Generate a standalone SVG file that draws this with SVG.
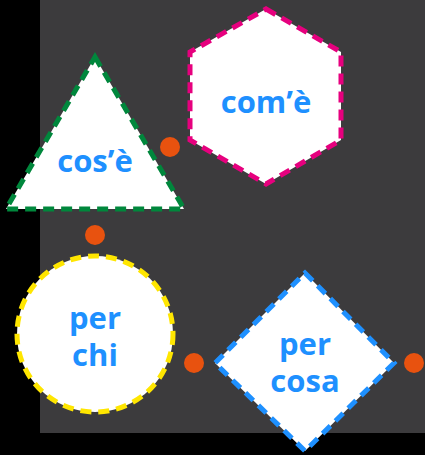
<svg xmlns="http://www.w3.org/2000/svg" width="425" height="455" viewBox="0 0 425 455">
<style>
.lbl{font-family:"Open Sans","DejaVu Sans",sans-serif;font-weight:bold;font-size:31px;fill:#1e90ff;text-anchor:middle}
.shp{fill:#ffffff;stroke-width:5;stroke-dasharray:11 7}
.dot{fill:#e8520f}
</style>
<rect x="0" y="0" width="425" height="455" fill="#000000"/>
<rect x="40" y="0" width="385" height="433" fill="#3c3b3d"/>
<g id="connectors">
<circle class="dot" cx="170" cy="147" r="10"/>
<circle class="dot" cx="95" cy="235" r="10"/>
<circle class="dot" cx="194" cy="363" r="10"/>
<circle class="dot" cx="414" cy="363" r="10"/>
</g>
<g id="node-cose">
<polygon class="shp" stroke="#00873c" points="95,57 184,209 6,209"/>
<text class="lbl" x="95" y="172">cos’è</text>
</g>
<g id="node-come">
<polygon class="shp" stroke="#e6007e" points="266,9 341,52 341,140 266,184 190,140 190,52"/>
<text class="lbl" x="266" y="113">com’è</text>
</g>
<g id="node-perchi">
<circle class="shp" stroke="#ffe600" cx="95" cy="334" r="78"/>
<text class="lbl" x="95" y="329">per<tspan x="95" dy="37">chi</tspan></text>
</g>
<g id="node-percosa">
<polygon class="shp" stroke="#1e90ff" points="305,273 394,363 305,451 215,363"/>
<text class="lbl" x="305" y="355">per<tspan x="305" dy="37">cosa</tspan></text>
</g>
</svg>
